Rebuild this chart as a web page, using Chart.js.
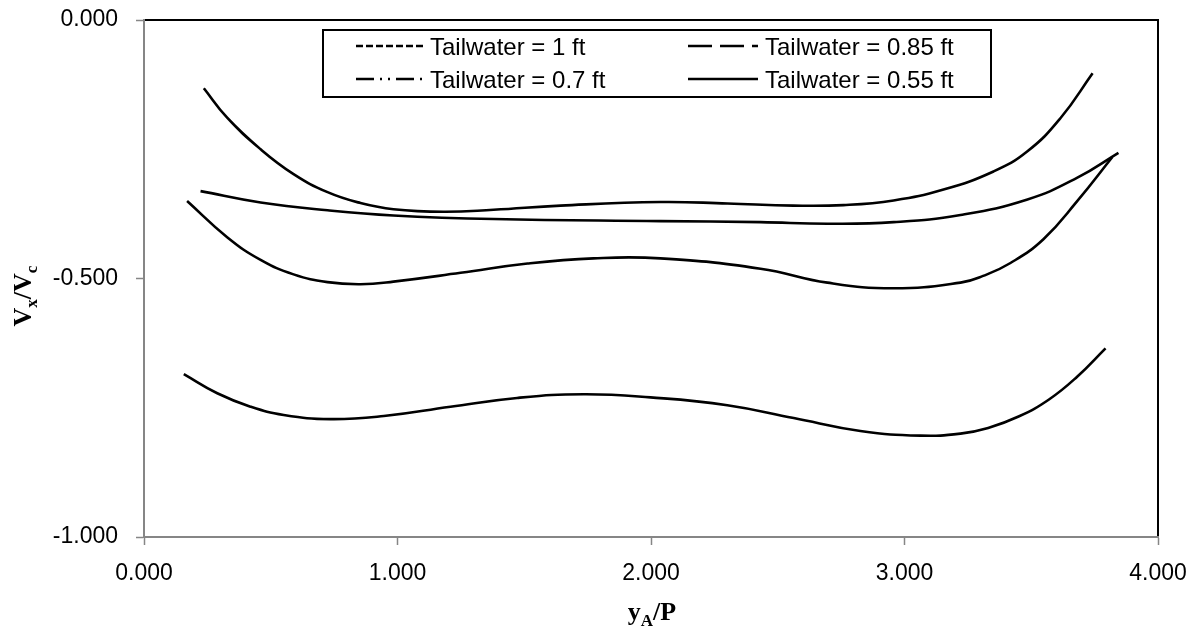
<!DOCTYPE html>
<html>
<head>
<meta charset="utf-8">
<script src="https://cdn.jsdelivr.net/npm/chart.js@4.4.0/dist/chart.umd.min.js"></script>
<style>
  html, body { margin: 0; padding: 0; background: #fff; }
  #wrap { width: 1198px; height: 636px; }
</style>
</head>
<body>
<div id="wrap"><canvas id="chart" width="1198" height="636"></canvas></div>
<script>
// series names (legend order)
const seriesLabels = ['Tailwater = 1 ft', 'Tailwater = 0.85 ft', 'Tailwater = 0.7 ft', 'Tailwater = 0.55 ft'];

// yA/P values and Vx/Vc values
const tw100X = [0.236, 0.328, 0.460, 0.590, 0.724, 0.854, 0.984, 1.181, 1.379, 1.643, 2.037, 2.302, 2.562, 2.759, 2.957, 3.154, 3.351, 3.485, 3.615, 3.742];
const tw100Y = [-0.132, -0.189, -0.250, -0.298, -0.333, -0.354, -0.366, -0.371, -0.367, -0.359, -0.352, -0.355, -0.359, -0.358, -0.349, -0.328, -0.293, -0.254, -0.190, -0.103];

const tw085X = [0.223, 0.460, 0.724, 0.984, 1.379, 2.037, 2.432, 2.696, 2.957, 3.221, 3.485, 3.682, 3.844];
const tw085Y = [-0.331, -0.353, -0.368, -0.378, -0.385, -0.389, -0.391, -0.394, -0.391, -0.377, -0.347, -0.305, -0.257];

const tw070X = [0.170, 0.328, 0.460, 0.590, 0.724, 0.854, 0.984, 1.249, 1.513, 1.773, 2.037, 2.432, 2.696, 2.957, 3.221, 3.310, 3.418, 3.548, 3.682, 3.820];
const tw070Y = [-0.350, -0.420, -0.464, -0.492, -0.507, -0.511, -0.506, -0.489, -0.471, -0.461, -0.461, -0.481, -0.508, -0.519, -0.508, -0.495, -0.470, -0.424, -0.350, -0.265];

const tw055X = [0.157, 0.289, 0.420, 0.551, 0.736, 0.946, 1.209, 1.472, 1.735, 1.998, 2.301, 2.563, 2.826, 3.063, 3.221, 3.330, 3.450, 3.570, 3.681, 3.793];
const tw055Y = [-0.685, -0.722, -0.748, -0.764, -0.772, -0.766, -0.748, -0.731, -0.724, -0.730, -0.745, -0.770, -0.795, -0.804, -0.800, -0.789, -0.767, -0.734, -0.690, -0.635];

const xTickLabels = ['0.000', '1.000', '2.000', '3.000', '4.000'];
const yTickLabels = ['-1.000', '-0.500', '0.000'];

const seriesX = [tw100X, tw085X, tw070X, tw055X];
const seriesY = [tw100Y, tw085Y, tw070Y, tw055Y];

// legend sample dash patterns
const legendDashes = [[7, 3], [24, 8], [18, 6, 2, 6, 2, 6], []];

function toPoints(xs, ys) {
    return xs.map((x, i) => ({ x: x, y: ys[i] }));
}

const datasets = seriesLabels.map((label, i) => ({
    label: label,
    data: toPoints(seriesX[i], seriesY[i]),
    showLine: true,
    borderColor: '#000',
    borderWidth: 2.6,
    pointRadius: 0,
    fill: false,
    tension: 0.45
}));

// draws text made of pieces with subscripts
function drawParts(ctx, parts, cx, baseline) {
    let total = 0;
    parts.forEach(p => {
        ctx.font = 'bold ' + p.size + 'px "Liberation Serif", "Times New Roman", serif';
        p.w = ctx.measureText(p.t).width;
        total += p.w;
    });
    let x = cx - total / 2;
    ctx.textBaseline = 'alphabetic';
    ctx.textAlign = 'left';
    parts.forEach(p => {
        ctx.font = 'bold ' + p.size + 'px "Liberation Serif", "Times New Roman", serif';
        ctx.fillText(p.t, x, baseline + p.dy);
        x += p.w;
    });
}

// kill the extra room chart.js keeps for overhanging tick labels
function noPad(s) {
    s.paddingTop = 0;
    s.paddingBottom = 0;
    s.paddingLeft = 0;
    s.paddingRight = 0;
}

const extras = {
    id: 'extras',
    beforeDraw(chart) {
        const ctx = chart.ctx;
        ctx.save();
        ctx.fillStyle = '#fff';
        ctx.fillRect(0, 0, chart.width, chart.height);
        const a = chart.chartArea;
        ctx.strokeStyle = '#000';
        ctx.lineWidth = 2;
        ctx.beginPath();
        ctx.moveTo(a.left, a.top);
        ctx.lineTo(a.right, a.top);
        ctx.lineTo(a.right, a.bottom);
        ctx.stroke();
        ctx.restore();
    },
    afterDraw(chart) {
        const ctx = chart.ctx;
        ctx.save();

        // legend box
        ctx.fillStyle = '#fff';
        ctx.fillRect(323, 30, 668, 67);
        ctx.strokeStyle = '#000';
        ctx.lineWidth = 2;
        ctx.strokeRect(323, 30, 668, 67);

        const cols = [{ x0: 356, x1: 424, tx: 430 }, { x0: 688, x1: 758, tx: 765 }];
        const rows = [{ ly: 46, ty: 55 }, { ly: 79, ty: 88 }];
        seriesLabels.forEach((label, i) => {
            const c = cols[i % 2];
            const r = rows[Math.floor(i / 2)];
            ctx.setLineDash(legendDashes[i]);
            ctx.lineWidth = 2.6;
            ctx.strokeStyle = '#000';
            ctx.beginPath();
            ctx.moveTo(c.x0, r.ly);
            ctx.lineTo(c.x1, r.ly);
            ctx.stroke();
            ctx.setLineDash([]);
            ctx.fillStyle = '#000';
            ctx.font = '24px "Liberation Sans", Arial, sans-serif';
            ctx.textAlign = 'left';
            ctx.textBaseline = 'alphabetic';
            ctx.fillText(label, c.tx, r.ty);
        });

        // axis titles
        ctx.fillStyle = '#000';
        drawParts(ctx, [
            { t: 'y', size: 26, dy: 0 },
            { t: 'A', size: 17, dy: 6 },
            { t: '/P', size: 26, dy: 0 }
        ], 652, 620);

        ctx.save();
        ctx.translate(31, 296);
        ctx.rotate(-Math.PI / 2);
        drawParts(ctx, [
            { t: 'V', size: 26, dy: 0 },
            { t: 'x', size: 17, dy: 6 },
            { t: '/V', size: 26, dy: 0 },
            { t: 'c', size: 17, dy: 6 }
        ], 0, 0);
        ctx.restore();

        ctx.restore();
    }
};

const tickFont = { family: '"Liberation Sans", Arial, sans-serif', size: 23 };

new Chart(document.getElementById('chart'), {
    type: 'scatter',
    data: { datasets: datasets },
    options: {
        responsive: false,
        animation: false,
        layout: { padding: { left: 0, top: 20, right: 40, bottom: 0 } },
        plugins: {
            legend: { display: false },
            tooltip: { enabled: false }
        },
        scales: {
            x: {
                type: 'linear',
                min: 0,
                max: 4,
                afterFit: s => { s.height = 99; noPad(s); },
                ticks: {
                    stepSize: 1,
                    color: '#000',
                    font: tickFont,
                    padding: 15,
                    maxRotation: 0,
                    callback: (v, i) => xTickLabels[i]
                },
                grid: { drawOnChartArea: false, tickLength: 8, tickColor: '#868686', tickWidth: 1.5 },
                border: { display: true, color: '#868686', width: 2 }
            },
            y: {
                type: 'linear',
                min: -1,
                max: 0,
                afterFit: s => { s.width = 144; noPad(s); },
                ticks: {
                    stepSize: 0.5,
                    color: '#000',
                    font: tickFont,
                    padding: 18,
                    callback: (v, i) => yTickLabels[i]
                },
                grid: { drawOnChartArea: false, tickLength: 8, tickColor: '#868686', tickWidth: 1.5 },
                border: { display: true, color: '#868686', width: 2 }
            }
        }
    },
    plugins: [extras]
});
</script>
</body>
</html>
